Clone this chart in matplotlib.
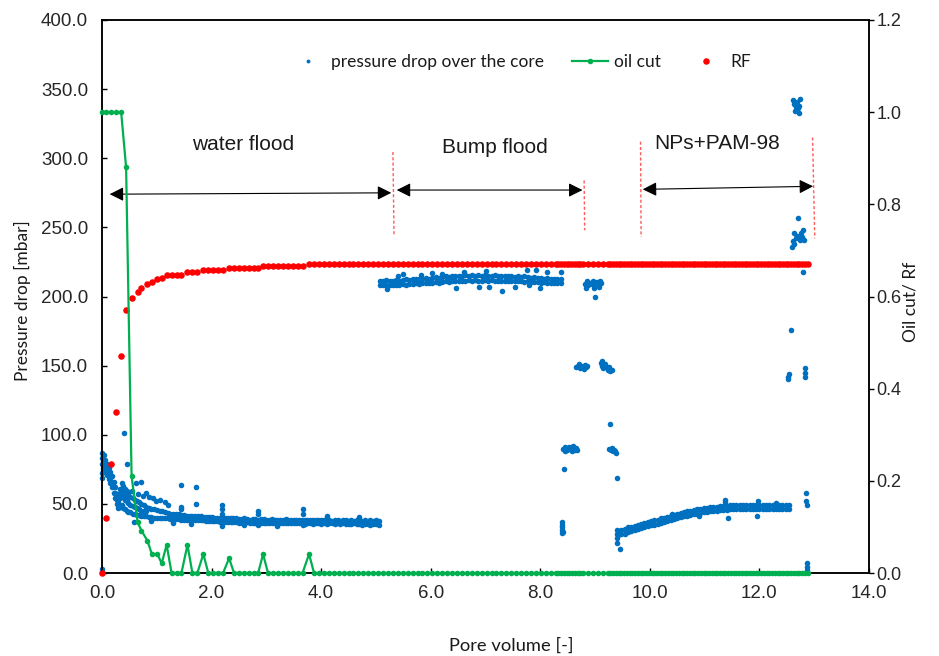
import matplotlib
matplotlib.use("Agg")
import matplotlib.pyplot as plt

BLUE = "#0070C0"
GREEN = "#00B050"
RED = "#FF0000"

# ---------------- oil cut / RF samples ----------------
pv_1 = [0.00, 0.08, 0.17, 0.26, 0.35, 0.44, 0.54, 0.65, 0.72, 0.83, 0.91, 1.01, 1.09, 1.18,
        1.27, 1.36, 1.45, 1.56, 1.65, 1.74, 1.85, 1.94, 2.03, 2.12, 2.21, 2.32, 2.41, 2.50,
        2.59, 2.68, 2.77, 2.85, 2.94, 3.03, 3.12, 3.21, 3.30, 3.39, 3.48, 3.57, 3.66, 3.78]
oil_1 = [1.0, 1.0, 1.0, 1.0, 1.0, 0.88, 0.21, 0.11, 0.092, 0.07, 0.041, 0.041, 0.021, 0.061,
         0.0, 0.0, 0.0, 0.061, 0.0, 0.0, 0.041, 0.0, 0.0, 0.0, 0.0, 0.032, 0.0, 0.0,
         0.0, 0.0, 0.0, 0.0, 0.041, 0.0, 0.0, 0.0, 0.0, 0.0, 0.0, 0.0, 0.0, 0.041]
rf_1 = [0.0, 0.12, 0.237, 0.35, 0.47, 0.57, 0.597, 0.61, 0.618, 0.627, 0.632, 0.637, 0.641, 0.646,
        0.646, 0.646, 0.646, 0.653, 0.653, 0.653, 0.658, 0.658, 0.658, 0.658, 0.658, 0.662, 0.662, 0.662,
        0.662, 0.662, 0.662, 0.662, 0.666, 0.666, 0.666, 0.666, 0.666, 0.666, 0.666, 0.666, 0.666, 0.671]

pv_2 = [3.87, 3.96, 4.05, 4.14, 4.23, 4.32, 4.41, 4.50, 4.59, 4.68,
        4.77, 4.86, 4.95, 5.04, 5.13, 5.22, 5.31, 5.40, 5.49, 5.58,
        5.67, 5.76, 5.85, 5.94, 6.03, 6.12, 6.21, 6.30, 6.39, 6.48,
        6.57, 6.66, 6.75, 6.84, 6.93, 7.02, 7.11, 7.20, 7.29, 7.38,
        7.47, 7.56, 7.65, 7.74, 7.83, 7.92, 8.01, 8.10, 8.19, 8.28]
oil_2 = [0.0, 0.0, 0.0, 0.0, 0.0, 0.0, 0.0, 0.0, 0.0, 0.0,
         0.0, 0.0, 0.0, 0.0, 0.0, 0.0, 0.0, 0.0, 0.0, 0.0,
         0.0, 0.0, 0.0, 0.0, 0.0, 0.0, 0.0, 0.0, 0.0, 0.0,
         0.0, 0.0, 0.0, 0.0, 0.0, 0.0, 0.0, 0.0, 0.0, 0.0,
         0.0, 0.0, 0.0, 0.0, 0.0, 0.0, 0.0, 0.0, 0.0, 0.0]
rf_2 = [0.671, 0.671, 0.671, 0.671, 0.671, 0.671, 0.671, 0.671, 0.671, 0.671,
        0.671, 0.671, 0.671, 0.671, 0.671, 0.671, 0.671, 0.671, 0.671, 0.671,
        0.671, 0.671, 0.671, 0.671, 0.671, 0.671, 0.671, 0.671, 0.671, 0.671,
        0.671, 0.671, 0.671, 0.671, 0.671, 0.671, 0.671, 0.671, 0.671, 0.671,
        0.671, 0.671, 0.671, 0.671, 0.671, 0.671, 0.671, 0.671, 0.671, 0.671]

pv_3 = [8.33, 8.38, 8.43, 8.48, 8.53, 8.58, 8.63, 8.68, 8.73, 8.78,
        8.87, 8.96, 9.05, 9.14, 9.23,
        9.28, 9.33, 9.38, 9.43, 9.48, 9.53, 9.58, 9.63, 9.68, 9.73,
        9.78, 9.83, 9.88, 9.93, 9.98, 10.03, 10.08, 10.13, 10.18, 10.23,
        10.28, 10.33, 10.38, 10.43, 10.48, 10.53, 10.58, 10.63, 10.68, 10.73,
        10.78, 10.83, 10.88, 10.93, 10.98, 11.03, 11.08, 11.13, 11.18, 11.23,
        11.28, 11.33, 11.38, 11.43, 11.48, 11.53, 11.58, 11.63, 11.68, 11.73,
        11.78, 11.83, 11.88, 11.93, 11.98, 12.03, 12.08, 12.13, 12.18, 12.23,
        12.28, 12.33, 12.38, 12.43, 12.48, 12.53, 12.58, 12.63, 12.68, 12.73,
        12.78, 12.83, 12.88]
oil_3 = [0.0, 0.0, 0.0, 0.0, 0.0, 0.0, 0.0, 0.0, 0.0, 0.0,
         0.0, 0.0, 0.0, 0.0, 0.0,
         0.0, 0.0, 0.0, 0.0, 0.0, 0.0, 0.0, 0.0, 0.0, 0.0,
         0.0, 0.0, 0.0, 0.0, 0.0, 0.0, 0.0, 0.0, 0.0, 0.0,
         0.0, 0.0, 0.0, 0.0, 0.0, 0.0, 0.0, 0.0, 0.0, 0.0,
         0.0, 0.0, 0.0, 0.0, 0.0, 0.0, 0.0, 0.0, 0.0, 0.0,
         0.0, 0.0, 0.0, 0.0, 0.0, 0.0, 0.0, 0.0, 0.0, 0.0,
         0.0, 0.0, 0.0, 0.0, 0.0, 0.0, 0.0, 0.0, 0.0, 0.0,
         0.0, 0.0, 0.0, 0.0, 0.0, 0.0, 0.0, 0.0, 0.0, 0.0,
         0.0, 0.0, 0.0]
rf_3 = [0.671, 0.671, 0.671, 0.671, 0.671, 0.671, 0.671, 0.671, 0.671, 0.671,
        0.671, 0.671, 0.671, 0.671, 0.671,
        0.671, 0.671, 0.671, 0.671, 0.671, 0.671, 0.671, 0.671, 0.671, 0.671,
        0.671, 0.671, 0.671, 0.671, 0.671, 0.671, 0.671, 0.671, 0.671, 0.671,
        0.671, 0.671, 0.671, 0.671, 0.671, 0.671, 0.671, 0.671, 0.671, 0.671,
        0.671, 0.671, 0.671, 0.671, 0.671, 0.671, 0.671, 0.671, 0.671, 0.671,
        0.671, 0.671, 0.671, 0.671, 0.671, 0.671, 0.671, 0.671, 0.671, 0.671,
        0.671, 0.671, 0.671, 0.671, 0.671, 0.671, 0.671, 0.671, 0.671, 0.671,
        0.671, 0.671, 0.671, 0.671, 0.671, 0.671, 0.671, 0.671, 0.671, 0.671,
        0.671, 0.671, 0.671]

# ---------------- pressure drop (mbar) ----------------
# water flood band
wf_x = [0.00, 0.03, 0.06, 0.09, 0.12, 0.15, 0.18, 0.21, 0.24, 0.27, 0.30, 0.33, 0.36, 0.39, 0.42, 0.45, 0.48,
        0.52, 0.56, 0.60, 0.64, 0.68, 0.72, 0.76, 0.80,
        0.85, 0.90, 0.95, 1.00, 1.05, 1.10, 1.15, 1.20, 1.25, 1.30, 1.35, 1.40, 1.45,
        1.50, 1.55, 1.60, 1.65, 1.70, 1.75, 1.80, 1.85, 1.90, 1.95, 2.00, 2.05, 2.10, 2.15, 2.20,
        2.25, 2.30, 2.35, 2.40, 2.45, 2.50,
        2.55, 2.60, 2.65, 2.70, 2.75, 2.80, 2.85, 2.90, 2.95, 3.00,
        3.05, 3.10, 3.15, 3.20, 3.25, 3.30, 3.35, 3.40, 3.45, 3.50,
        3.55, 3.60, 3.65, 3.70, 3.75, 3.80, 3.85, 3.90, 3.95, 4.00,
        4.05, 4.10, 4.15, 4.20, 4.25, 4.30, 4.35, 4.40, 4.45, 4.50,
        4.55, 4.60, 4.65, 4.70, 4.75, 4.80, 4.85, 4.90, 4.95, 5.00, 5.05]
wf_hi = [87, 85, 82, 79, 76, 73, 70, 66, 62, 57, 55, 61, 65, 63, 61, 59, 57,
         55, 54, 53, 52, 51, 50, 49, 48,
         47, 46.5, 46, 45.5, 45, 44.5, 44, 43.5, 43, 43, 42.5, 42.5, 42,
         42, 41.5, 41.5, 41.5, 41, 41, 41, 40.5, 40.5, 40.5, 40.5, 40, 40, 40, 40,
         39.5, 39.5, 39.5, 39.5, 39.5, 39,
         39, 39.5, 39, 38.5, 39, 39, 38.5, 39, 39, 38.5,
         38.5, 39, 38.5, 38.5, 38, 38.5, 39, 38.5, 38, 38.5,
         38.5, 38, 38.5, 38.5, 38, 38.5, 38, 38.5, 38, 38,
         38, 38.5, 38, 37.5, 38, 38, 37.5, 38, 38, 37.5,
         38, 37.5, 38, 38, 37.5, 38, 37.5, 38, 37.5, 38, 37.5]
wf_lo = [79, 77, 74, 71, 68, 65, 62, 58, 54, 50, 47, 48, 49, 47, 46, 45, 44,
         44, 43, 43, 42, 42, 41, 41, 41,
         40.5, 40.5, 40, 40, 40, 39.5, 39.5, 39.5, 39, 39, 39, 39, 38.5,
         38.5, 38.5, 38.5, 38, 38, 38, 38, 38, 37.5, 37.5, 37.5, 37.5, 37.5, 37, 37,
         37, 37, 37, 37, 37, 36.5,
         36.5, 36.5, 37, 36.5, 36.5, 36, 36.5, 36.5, 36.5, 36,
         36.5, 36, 36.5, 36.5, 36, 36.5, 36, 36.5, 36, 36,
         36, 36.5, 36, 35.5, 36, 36, 35.5, 36, 36, 35.5,
         36, 35.5, 36, 36, 35.5, 36, 35.5, 36, 35.5, 35.5,
         35.5, 36, 35.5, 35.5, 35, 35.5, 35.5, 35, 35.5, 35.5, 35]
wf_mid = [83, 81, 78, 75, 72, 69, 66, 62, 58, 53, 51, 54, 57, 55, 53, 52, 50.5,
          49.5, 48.5, 48, 47, 46, 45, 44.5, 44.5]
wf_extra_x = [0.00, 0.00, 0.00, 0.00, 0.01, 0.33, 0.36, 0.36, 0.39, 0.42, 0.45,
              0.40, 0.46, 0.55, 0.62, 0.71, 0.66, 0.75, 0.80, 0.86, 0.93, 0.98, 1.06, 1.15, 1.20,
              1.45, 1.45, 1.45, 1.72, 1.72, 2.19, 2.19, 2.19, 2.19, 2.85, 2.85, 2.85,
              3.66, 3.66, 3.66, 0.58, 0.90, 1.30, 1.62, 2.60, 3.20, 4.10, 4.70]
wf_extra_y = [72, 69, 3, 1, 75, 58, 61, 57, 59, 57, 55.5,
              101, 79, 59, 65, 66, 57, 56, 58, 55, 54, 52, 53, 51, 49,
              64, 48, 46, 62, 50, 49, 46, 43, 34, 45, 43, 34.5,
              46, 43, 34.5, 37, 37.5, 36.5, 35.5, 34.5, 34, 41, 40.5]

# bump flood band
bf_x = [5.07, 5.13, 5.19, 5.25, 5.31, 5.37, 5.43, 5.49, 5.55, 5.61, 5.67, 5.73, 5.79, 5.85, 5.91, 5.97,
        6.03, 6.09, 6.15, 6.21, 6.27, 6.33, 6.39, 6.45, 6.51, 6.57, 6.63, 6.69, 6.75, 6.81, 6.87, 6.93, 6.99,
        7.05, 7.11, 7.17, 7.23, 7.29, 7.35, 7.41, 7.47, 7.53, 7.59, 7.65, 7.71, 7.77, 7.83, 7.89, 7.95,
        8.01, 8.07, 8.13, 8.19, 8.25, 8.31, 8.37]
bf_hi = [211.5, 211, 212, 211.5, 211, 212, 211.5, 212, 212.5, 212, 212.5, 213, 212.5, 213, 213.5, 213,
         213.5, 214, 213.5, 214, 214.5, 214, 214.5, 215, 214.5, 215, 215.5, 215, 215.5, 215, 215.5, 215, 215.5,
         215, 215, 215.5, 215, 214.5, 215, 214.5, 214.5, 214, 214.5, 214, 214.5, 214, 213.5, 214, 213.5,
         213.5, 213, 213.5, 213, 212.5, 213, 212.5]
bf_lo = [208.5, 208, 208.5, 208, 208.5, 208.5, 208, 209, 208.5, 209, 209, 209.5, 209, 209.5, 210, 209.5,
         210, 210.5, 210, 210.5, 211, 210.5, 211, 211.5, 211, 211.5, 211.5, 212, 211.5, 212, 211.5, 211.5, 212,
         211.5, 212, 211.5, 211.5, 211.5, 211, 211.5, 211, 211.5, 211, 211, 210.5, 211, 210.5, 210.5, 210.5,
         210, 210.5, 210, 210, 209.5, 209.5, 209.5]
bf_out_x = [5.20, 5.50, 5.83, 6.03, 6.47, 6.60, 6.89, 7.00, 7.07, 7.31, 7.53, 7.75, 7.93, 8.00,
            8.13, 8.37, 5.40, 6.20, 7.80]
bf_out_y = [205.5, 216, 215.5, 217, 206, 218, 207, 218.5, 207, 204, 207, 219, 219, 206,
            218, 218, 214.5, 216.5, 208]

# transition clusters 8.4 - 9.4 PV
cl_x = [8.40, 8.40, 8.40, 8.40, 8.40, 8.41,
        8.42, 8.45, 8.48, 8.50, 8.53, 8.55, 8.58, 8.60, 8.63, 8.65, 8.67, 8.46, 8.57, 8.43,
        8.66, 8.69, 8.72, 8.75, 8.78, 8.81, 8.84, 8.86, 8.70, 8.80,
        8.82, 8.85, 8.88, 8.91, 8.94, 8.97, 9.00, 9.03, 9.06, 9.09, 9.11, 8.84, 8.98, 9.08, 9.00,
        9.10, 9.12, 9.15, 9.18, 9.20, 9.23, 9.26, 9.28, 9.30, 9.13,
        9.26, 9.29, 9.32, 9.35, 9.37, 9.39, 9.30, 9.27, 9.40]
cl_y = [29, 31, 33, 35, 37, 30,
        90, 91, 89, 90.5, 91, 89.5, 90, 92, 89, 90.5, 89, 88, 88, 75,
        149, 150, 148.5, 150, 149, 150.5, 149, 150, 151.5, 147.5,
        209, 211, 208, 210, 209, 211, 208.5, 210.5, 209, 211, 210, 206, 206.5, 207, 200,
        152, 150, 148, 151, 149, 147, 149, 146, 147, 153,
        90, 89, 88, 89, 88, 87, 90.5, 108, 69]

# NPs + PAM band
np_x = [9.42, 9.48, 9.54, 9.60, 9.66, 9.72, 9.78, 9.84, 9.90, 9.96,
        10.02, 10.08, 10.14, 10.20, 10.26, 10.32, 10.38, 10.44, 10.50, 10.56,
        10.62, 10.68, 10.74, 10.80, 10.86, 10.92, 10.98, 11.04, 11.10, 11.16,
        11.22, 11.28, 11.34, 11.40, 11.46, 11.52, 11.58, 11.64, 11.70, 11.76,
        11.82, 11.88, 11.94, 12.00, 12.06, 12.12, 12.18, 12.24, 12.30, 12.36,
        12.42, 12.48, 12.54]
np_hi = [30.5, 31, 31.5, 33, 33.5, 34, 35, 35.5, 36, 37,
         37.5, 38, 38.5, 39.5, 40, 40.5, 41.5, 42, 42.5, 43.5,
         44, 44.5, 45, 45.5, 46, 46.5, 47, 47, 47.5, 48,
         48, 48.5, 48.5, 48.5, 49, 49, 49, 49, 49.5, 49,
         49, 49.5, 49, 49.5, 49, 49, 49.5, 49, 49, 49.5,
         49, 49.5, 49]
np_lo = [27.5, 28, 28.5, 30, 30.5, 31, 32, 32.5, 33, 34,
         34.5, 35, 35.5, 36.5, 37, 37.5, 38.5, 39, 39.5, 40.5,
         41, 41.5, 42, 42.5, 43, 43.5, 44, 44, 44.5, 45,
         45, 45.5, 45.5, 45.5, 46, 46, 46, 46, 46, 46,
         46, 46, 46, 46.5, 46, 46, 46, 46, 46, 46,
         46, 46, 46]
np_out_x = [9.40, 9.40, 9.40, 9.40, 9.45, 11.37, 11.37, 11.43, 11.95, 11.97, 10.90, 10.40, 12.30]
np_out_y = [22, 25, 28, 31, 17, 51, 52.5, 40, 41, 52, 41.5, 42.5, 50.5]

# end-of-test points
end_x = [12.62, 12.64, 12.66, 12.68, 12.70, 12.72, 12.74, 12.65, 12.73,
         12.60, 12.62, 12.64, 12.66, 12.63, 12.68, 12.74, 12.76, 12.78, 12.80, 12.70, 12.82,
         12.58, 12.52, 12.53, 12.54, 12.83, 12.83, 12.84, 12.80,
         12.85, 12.85, 12.86, 12.87, 12.87, 12.87]
end_y = [342, 339, 337, 341, 336, 338, 343, 334, 333,
         236, 240, 238, 242, 246, 244, 241, 246, 243, 248, 257, 241,
         176, 140, 142, 144, 148, 145, 142, 218,
         58, 52, 49, 7, 4, 2]

# ---------------- axes / annotations ----------------
x_ticks = [0, 2, 4, 6, 8, 10, 12, 14]
x_tick_labels = ["0.0", "2.0", "4.0", "6.0", "8.0", "10.0", "12.0", "14.0"]
yl_ticks = [0, 50, 100, 150, 200, 250, 300, 350, 400]
yl_tick_labels = ["0.0", "50.0", "100.0", "150.0", "200.0", "250.0", "300.0", "350.0", "400.0"]
yr_ticks = [0.0, 0.2, 0.4, 0.6, 0.8, 1.0, 1.2]
yr_tick_labels = ["0.0", "0.2", "0.4", "0.6", "0.8", "1.0", "1.2"]

stage_names = ["water flood", "Bump flood", "NPs+PAM-98"]
stage_text_xy = [(2.58, 310), (7.17, 308), (11.22, 311)]
stage_arrows = [((0.14, 274), (5.28, 275)), ((5.38, 277), (8.77, 277)), ((9.87, 277.5), (12.98, 279.7))]
divider_lines = [((5.31, 5.33), (304.5, 244.5)), ((8.80, 8.81), (284, 248)),
                 ((9.83, 9.84), (312, 243)), ((12.97, 13.01), (315, 242))]

TICK_FONT = "Liberation Sans"
LABEL_FONT = "Lato"

fig = plt.figure(figsize=(9.39, 6.56), dpi=100)
ax = fig.add_axes([102 / 939, 1 - 573 / 656, (869 - 102) / 939, (573 - 20) / 656])
ax2 = ax.twinx()

ax.set_xlim(0, 14)
ax.set_ylim(0, 400)
ax2.set_ylim(0, 1.2)

bkw = dict(linestyle="none", marker="o", color=BLUE, ms=4.0, mew=0, clip_on=False)
ax.plot(wf_x, wf_hi, **bkw)
ax.plot(wf_x, wf_lo, **bkw)
ax.plot(wf_x[:len(wf_mid)], wf_mid, **bkw)
ax.plot(wf_extra_x, wf_extra_y, **bkw)
ax.plot(bf_x, bf_hi, **bkw)
ax.plot(bf_x, bf_lo, **bkw)
ax.plot(bf_out_x, bf_out_y, **bkw)
ax.plot(cl_x, cl_y, **bkw)
ax.plot(np_x, np_hi, **bkw)
ax.plot(np_x, np_lo, **bkw)
ax.plot(np_out_x, np_out_y, **bkw)
ax.plot(end_x, end_y, **bkw)
h_p, = ax.plot([], [], linestyle="none", marker="o", color=BLUE, ms=2.8, mew=0)

pv_all = pv_1 + pv_2 + pv_3
oil_all = oil_1 + oil_2 + oil_3
rf_all = rf_1 + rf_2 + rf_3
h_oil, = ax2.plot(pv_all, oil_all, "-o", color=GREEN, lw=1.6, ms=4.0, mew=0, clip_on=False, zorder=5)
h_rf, = ax2.plot(pv_all, rf_all, linestyle="none", marker="o", color=RED, ms=4.7, mew=0,
                 clip_on=False, zorder=4)

# stage annotations
for name, (tx, ty) in zip(stage_names, stage_text_xy):
    ax.text(tx, ty, name, ha="center", va="center", fontsize=15, family=TICK_FONT, color="#1a1a1a")
for (p0, p1) in stage_arrows:
    ax.annotate("", xy=p1, xytext=p0,
                arrowprops=dict(arrowstyle="<|-|>,head_length=0.6,head_width=0.3", color="black",
                                lw=0.8, mutation_scale=14, shrinkA=0, shrinkB=0))
for (xs, ys) in divider_lines:
    ax.plot(xs, ys, color="#ff5a5a", lw=1.0, dashes=(2.2, 1.6), clip_on=False)

# axes styling
ax.set_xticks(x_ticks)
ax.set_xticklabels(x_tick_labels)
ax.set_yticks(yl_ticks)
ax.set_yticklabels(yl_tick_labels)
ax2.set_yticks(yr_ticks)
ax2.set_yticklabels(yr_tick_labels)

for a in (ax, ax2):
    for s in a.spines.values():
        s.set_linewidth(1.1)
        s.set_color("black")
ax.tick_params(axis="x", direction="in", length=3.5, width=1, pad=9, labelsize=13.5, labelcolor="#262626")
ax.tick_params(axis="y", direction="in", length=3.5, width=1, pad=10, labelsize=13.5, labelcolor="#262626")
ax2.tick_params(axis="y", direction="out", length=3.5, width=1, pad=2, labelsize=13, labelcolor="#262626")
for lab in ax.get_xticklabels() + ax.get_yticklabels() + ax2.get_yticklabels():
    lab.set_family(TICK_FONT)

fig.text(22 / 939, 1 - 301 / 656, "Pressure drop [mbar]", rotation=90, ha="center", va="center",
         fontsize=12.5, family=LABEL_FONT, color="#1a1a1a")
fig.text(910 / 939, 1 - 302 / 656, "Oil cut/ Rf", rotation=90, ha="center", va="center",
         fontsize=12.5, family=LABEL_FONT, color="#1a1a1a")
fig.text(511 / 939, 1 - 646 / 656, "Pore volume [-]", ha="center", va="center",
         fontsize=13.2, family=LABEL_FONT, color="#1a1a1a")

leg = ax2.legend([h_p, h_oil, h_rf], ["pressure drop over the core", "oil cut", "RF"],
                 loc="center", bbox_to_anchor=(520 / 939, 1 - 62 / 656), bbox_transform=fig.transFigure,
                 ncol=3, frameon=False, handlelength=2.1, handletextpad=0.3, columnspacing=1.6,
                 prop={"family": LABEL_FONT, "size": 12.5})
for t in leg.get_texts():
    t.set_color("#1a1a1a")

fig.savefig("out.png", dpi=100)
